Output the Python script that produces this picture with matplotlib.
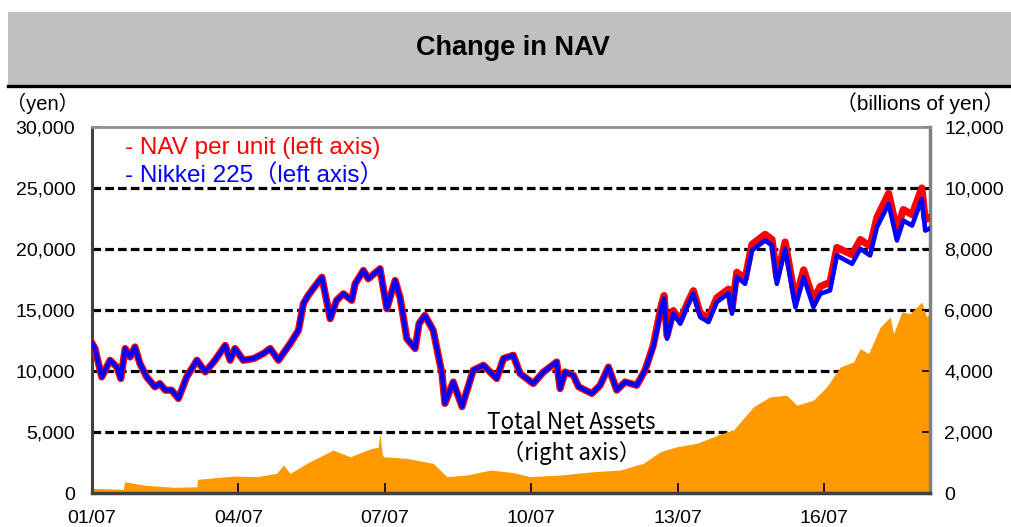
"""
Change in NAV: NAV per unit / Nikkei 225 (left axis) and Total Net Assets (right axis).
"""

import matplotlib
matplotlib.use("Agg")
import matplotlib.pyplot as plt
from matplotlib.patches import Rectangle
from matplotlib.lines import Line2D

plt.rcParams["font.family"] = ["Liberation Sans", "Noto Sans CJK JP", "DejaVu Sans"]

# 日付 (年の小数表記)
dates = [
    2001.50, 2001.56, 2001.70, 2001.87, 2002.01, 2002.09, 2002.18, 2002.28, 2002.38, 2002.48,
    2002.62, 2002.79, 2002.89, 2003.00, 2003.13, 2003.27, 2003.44, 2003.65, 2003.82, 2004.02,
    2004.23, 2004.33, 2004.43, 2004.60, 2004.81, 2005.01, 2005.15, 2005.32, 2005.56, 2005.73,
    2005.83, 2005.93, 2006.03, 2006.21, 2006.38, 2006.51, 2006.65, 2006.82, 2006.89, 2007.06,
    2007.16, 2007.40, 2007.54, 2007.71, 2007.81, 2007.95, 2008.12, 2008.20, 2008.32, 2008.49,
    2008.67, 2008.73, 2008.90, 2009.08, 2009.31, 2009.52, 2009.79, 2009.93, 2010.13, 2010.27,
    2010.54, 2010.75, 2011.02, 2011.09, 2011.19, 2011.36, 2011.47, 2011.74, 2011.91, 2012.08,
    2012.25, 2012.42, 2012.66, 2012.83, 2013.00, 2013.17, 2013.22, 2013.28, 2013.41, 2013.55,
    2013.69, 2013.82, 2013.96, 2014.13, 2014.30, 2014.54, 2014.61, 2014.71, 2014.88, 2015.02,
    2015.29, 2015.43, 2015.53, 2015.70, 2015.91, 2016.08, 2016.28, 2016.42, 2016.62, 2016.76,
    2017.07, 2017.24, 2017.44, 2017.58, 2017.82, 2017.99, 2018.12, 2018.30, 2018.50, 2018.57,
    2018.67,
]

# 日経225 (円)
nikkei = [
    12270, 11860, 9510, 10880, 10330, 9380, 11840, 11150, 11970, 10630,
    9510, 8700, 8970, 8430, 8430, 7750, 9510, 10880, 9920, 10880,
    12100, 10880, 11840, 10880, 11020, 11430, 11840, 10880, 12250, 13330,
    15520, 16200, 16750, 17690, 14290, 15790, 16330, 15790, 17150, 18240,
    17560, 18380, 15110, 17420, 16060, 12650, 11840, 13880, 14560, 13330,
    9790, 7340, 9100, 7080, 10060, 10470, 9380, 11020, 11290, 9790,
    8970, 9920, 10740, 8560, 9920, 9650, 8700, 8160, 8830, 10330,
    8430, 9100, 8830, 10060, 11970, 15240, 15930, 12650, 14700, 13880,
    15240, 16330, 14420, 14010, 15650, 16360, 14700, 17690, 17150, 19880,
    20700, 20290, 17150, 20020, 15240, 17690, 15240, 16330, 16610, 19470,
    18790, 20020, 19470, 21780, 23700, 20700, 22330, 21920, 24100, 21510,
    21700,
]

# 1口当たり基準価額 (円)
nav = [
    12270, 11860, 9510, 10880, 10330, 9380, 11840, 11150, 11970, 10630,
    9510, 8700, 8970, 8430, 8430, 7750, 9510, 10880, 9920, 10880,
    12100, 10880, 11840, 10880, 11020, 11430, 11840, 10880, 12250, 13330,
    15520, 16200, 16750, 17690, 14290, 15790, 16330, 15790, 17150, 18240,
    17560, 18380, 15110, 17420, 16060, 12650, 11840, 13880, 14560, 13330,
    9790, 7340, 9100, 7080, 10060, 10470, 9380, 11020, 11290, 9790,
    8970, 9920, 10740, 8560, 9920, 9650, 8700, 8160, 8830, 10330,
    8430, 9100, 8830, 10060, 12120, 15490, 16180, 12900, 14950, 14130,
    15490, 16580, 14720, 14360, 16000, 16710, 15050, 18090, 17550, 20380,
    21200, 20790, 17650, 20570, 15790, 18290, 15840, 16930, 17260, 20120,
    19540, 20770, 20220, 22580, 24550, 21550, 23230, 22820, 25000, 22410,
    22600,
]

# 純資産総額 (billions of yen)
tna_dates = [
    2001.50, 2002.14, 2002.17, 2002.55, 2003.17, 2003.65, 2003.66, 2004.40, 2004.88, 2005.28,
    2005.42, 2005.56, 2005.93, 2006.44, 2006.79, 2007.23, 2007.36, 2007.40, 2007.44, 2007.47,
    2007.95, 2008.49, 2008.77, 2009.18, 2009.66, 2010.13, 2010.48, 2011.09, 2011.77, 2012.32,
    2012.79, 2013.14, 2013.48, 2013.89, 2014.37, 2014.64, 2015.05, 2015.39, 2015.73, 2015.94,
    2016.28, 2016.55, 2016.83, 2017.10, 2017.24, 2017.41, 2017.65, 2017.85, 2017.92, 2018.09,
    2018.26, 2018.50, 2018.60, 2018.67,
]
tna = [
    154, 121, 370, 262, 187, 206, 448, 556, 535, 644,
    916, 644, 1000, 1407, 1188, 1463, 1500, 1954, 1300, 1188,
    1135, 972, 535, 589, 753, 670, 535, 589, 698, 753,
    972, 1352, 1516, 1627, 1930, 2062, 2825, 3152, 3207, 2880,
    3044, 3479, 4134, 4297, 4736, 4572, 5443, 5770, 5225, 5934,
    5881, 6261, 5770, 5934,
]

tick_years = [2001.5, 2004.5, 2007.5, 2010.5, 2013.5, 2016.5]
tick_labels = ["01/07", "04/07", "07/07", "10/07", "13/07", "16/07"]
left_ticks = [0, 5000, 10000, 15000, 20000, 25000, 30000]
right_ticks = [0, 2000, 4000, 6000, 8000, 10000, 12000]

fig = plt.figure(figsize=(10.11, 5.27), dpi=100)
fig.patch.set_facecolor("white")

# タイトル帯
fig.patches.append(Rectangle((0.008, 0.8387), 0.992, 0.1385, transform=fig.transFigure,
                             facecolor="#c0c0c0", edgecolor="none", zorder=0))
fig.lines.append(Line2D([0.008, 1.0], [0.8359, 0.8359], transform=fig.transFigure,
                        color="black", lw=2.4))
fig.text(0.507, 0.909, "Change in NAV", ha="center", va="center",
         fontsize=19.5, fontweight="bold", family="Liberation Sans")

ax = fig.add_axes([0.091, 0.0645, 0.829, 0.6945])
ax2 = ax.twinx()
ax.set_zorder(2)
ax2.set_zorder(1)
ax.patch.set_visible(False)

# 右軸: 破線グリッド -> 純資産総額の面
for v in right_ticks[1:-1]:
    ax2.axhline(v, color="black", lw=2.3, linestyle=(0, (2.7, 1.3)), zorder=0.5)
ax2.fill_between(tna_dates, tna, 0, color="#ff9900", lw=0, zorder=1)
ax2.set_ylim(0, 12000)
ax2.set_yticks(right_ticks)
ax2.set_yticklabels([f"{v:,}" for v in right_ticks])
ax2.tick_params(axis="y", direction="in", length=6, width=1.2, pad=10, labelsize=14)
for s in ax2.spines.values():
    s.set_visible(False)

# 左軸: 基準価額と日経225
ax.plot(dates, nav, color="#ff0000", lw=5.2, solid_joinstyle="round", zorder=3)
ax.plot(dates, nikkei, color="#0000ff", lw=3.3, solid_joinstyle="round", zorder=4)
ax.set_xlim(2001.5, 2018.67)
ax.set_ylim(0, 30000)
ax.set_yticks(left_ticks)
ax.set_yticklabels([f"{v:,}" for v in left_ticks])
ax.set_xticks(tick_years)
ax.set_xticklabels(tick_labels)
ax.tick_params(axis="y", direction="in", length=6, width=1.2, pad=12, labelsize=14)
ax.tick_params(axis="x", direction="in", length=7, width=1.2, pad=12, labelsize=14)

ax.spines["left"].set_color("#404040")
ax.spines["left"].set_linewidth(2.2)
ax.spines["bottom"].set_color("#404040")
ax.spines["bottom"].set_linewidth(2.5)
ax.spines["right"].set_color("#808080")
ax.spines["right"].set_linewidth(2.5)
ax.spines["top"].set_color("#909090")
ax.spines["top"].set_linewidth(2)

# 凡例代わりのテキスト
ax.text(0.039, 0.943, "- NAV per unit (left axis)", transform=ax.transAxes,
        color="#ff0000", fontsize=17.5, va="center", ha="left")
ax.text(0.039, 0.866, "- Nikkei 225（left axis）", transform=ax.transAxes,
        color="#0000ff", fontsize=17.5, va="center", ha="left")
ax.text(0.572, 0.194, "Total Net Assets", transform=ax.transAxes, color="black",
        fontsize=16.2, va="center", ha="center", family=["Noto Sans CJK JP"], zorder=5)
ax.text(0.572, 0.109, "（right axis）", transform=ax.transAxes, color="black",
        fontsize=16, va="center", ha="center", family=["Noto Sans CJK JP"], zorder=5)

# 軸の単位
fig.text(0.0415, 0.8046, "（yen）", ha="center", va="center", fontsize=14.5)
fig.text(0.993, 0.8046, "（billions of yen）", ha="right", va="center", fontsize=15)

fig.savefig("out.png", dpi=100)
